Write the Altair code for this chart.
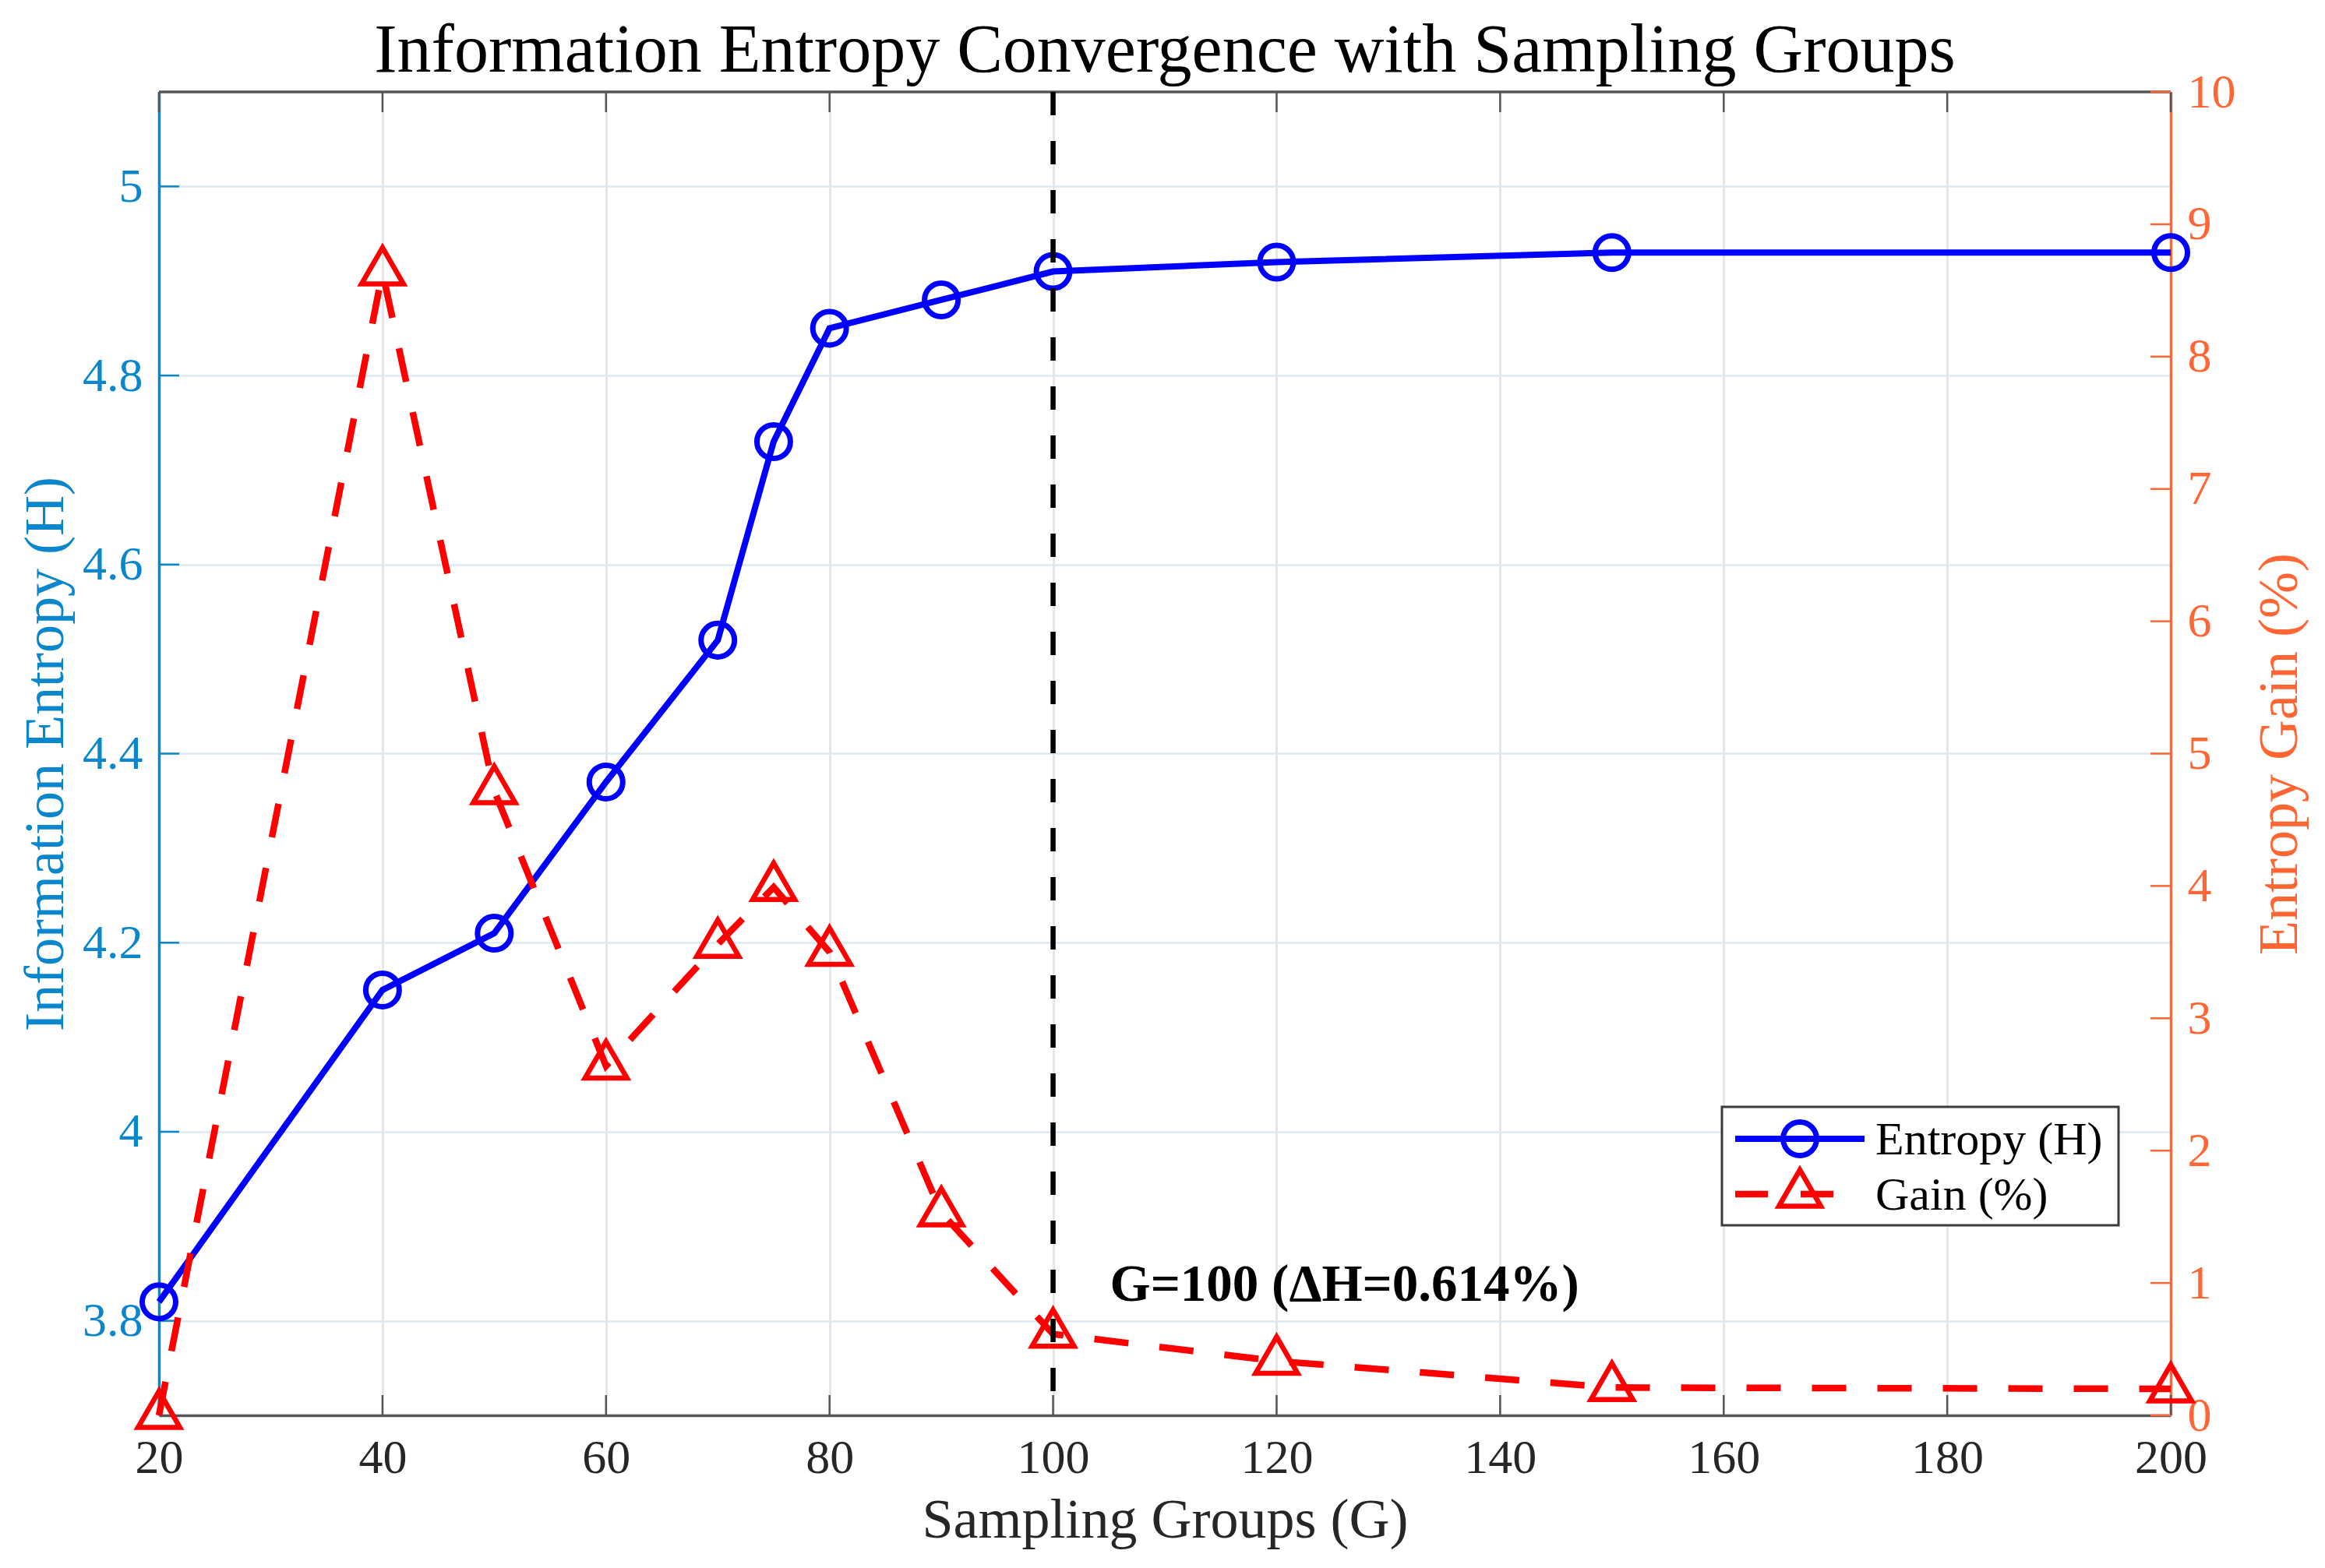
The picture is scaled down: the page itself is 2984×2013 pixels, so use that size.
import altair as alt
import pandas as pd

# ---------------- data ----------------
groups = [20, 40, 50, 60, 70, 75, 80, 90, 100, 120, 150, 200]
entropy = [3.82, 4.15, 4.21, 4.37, 4.52, 4.73, 4.85, 4.88, 4.91, 4.92, 4.93, 4.93]
gain = [0.0, 8.64, 4.72, 2.64, 3.56, 3.99, 3.50, 1.53, 0.614, 0.41, 0.21, 0.20]

x_ticks = [20, 40, 60, 80, 100, 120, 140, 160, 180, 200]
left_ticks = [3.8, 4.0, 4.2, 4.4, 4.6, 4.8, 5.0]
right_ticks = [0, 1, 2, 3, 4, 5, 6, 7, 8, 9, 10]
series_names = ["Entropy (H)", "Gain (%)"]
converge_group = [100]
annotation_text = "G=100 (\u0394H=0.614%)"
chart_title = "Information Entropy Convergence with Sampling Groups"

# ---------------- styling ----------------
FONT = "Liberation Serif"
W, H = 2582, 1699
LEFT_C = "#0A86CC"
RIGHT_C = "#FF6633"
BLUE = "#0000FF"
RED = "#FF0000"
AXIS_C = "#555555"
TICK = 26
TRI = "M0,-1.155L1,0.577L-1,0.577Z"

df = pd.DataFrame({"G": groups, "H": entropy, "Gain": gain})
xt = pd.DataFrame({"t": x_ticks})
lt = pd.DataFrame({"t": left_ticks})
rt = pd.DataFrame({"t": right_ticks})
cg = pd.DataFrame({"G": converge_group})
one = pd.DataFrame({"a": [0]})

x_axis = alt.Axis(values=x_ticks, title="Sampling Groups (G)", grid=True,
                  gridColor="#e2e2e2", gridWidth=2.5, domainColor=AXIS_C,
                  domainWidth=3.5, ticks=False, tickSize=0, labelFont=FONT,
                  labelFontSize=62, labelColor="#262626", labelPadding=24,
                  labelFlush=False, labelOverlap=False, titleFont=FONT,
                  titleFontSize=72, titleFontWeight="normal", titleColor="#262626",
                  titleBaseline="alphabetic", titleY=156)

left_axis = alt.Axis(values=left_ticks, format="~g", title="Information Entropy (H)",
                     orient="left", grid=True, gridColor="#dbe9f5", gridWidth=2.5,
                     domainColor=LEFT_C, domainWidth=3.5, ticks=False, tickSize=0,
                     labelFont=FONT, labelFontSize=62, labelColor=LEFT_C,
                     labelPadding=21, labelFlush=False, labelOverlap=False,
                     titleFont=FONT, titleFontSize=72, titleFontWeight="normal",
                     titleColor=LEFT_C, titleAngle=270, titleBaseline="alphabetic",
                     titleX=-124)

right_axis = alt.Axis(values=right_ticks, format="d", title="Entropy Gain (%)",
                      orient="right", grid=False, domainColor=RIGHT_C,
                      domainWidth=3.5, ticks=False, tickSize=0, labelFont=FONT,
                      labelFontSize=62, labelColor=RIGHT_C, labelPadding=21,
                      labelFlush=False, labelOverlap=False, titleFont=FONT,
                      titleFontSize=72, titleFontWeight="normal", titleColor=RIGHT_C,
                      titleAngle=270, titleBaseline="alphabetic", titleX=161)


def xe(field):
    return alt.X(f"{field}:Q", scale=alt.Scale(domain=[20, 200], nice=False, zero=False),
                 axis=x_axis)


def yl(field):
    return alt.Y(f"{field}:Q", scale=alt.Scale(domain=[3.7, 5.1], nice=False, zero=False),
                 axis=left_axis)


def yr(field):
    return alt.Y(f"{field}:Q", scale=alt.Scale(domain=[0, 10], nice=False, zero=False),
                 axis=right_axis)


# ---------------- left (entropy) group ----------------
left_tick_rules = alt.Chart(lt).mark_rule(color=LEFT_C, strokeWidth=2.5).encode(
    y=yl("t"), x=alt.value(0), x2=alt.value(TICK))
ent_line = alt.Chart(df).mark_line(color=BLUE, strokeWidth=8).encode(x=xe("G"), y=yl("H"))
ent_pts = alt.Chart(df).mark_point(shape="circle", filled=False, size=1850, color=BLUE,
                                   strokeWidth=7, opacity=1).encode(x=xe("G"), y=yl("H"))
left_group = alt.layer(left_tick_rules, ent_line, ent_pts)

# ---------------- right (gain) group ----------------
right_tick_rules = alt.Chart(rt).mark_rule(color=RIGHT_C, strokeWidth=2.5).encode(
    y=yr("t"), x=alt.value(W - TICK), x2=alt.value(W))
gain_line = alt.Chart(df).mark_line(color=RED, strokeWidth=8.5, strokeDash=[44, 40]).encode(
    x=xe("G"), y=yr("Gain"))
gain_pts = alt.Chart(df).mark_point(shape=TRI, filled=False, size=2900, color=RED,
                                    strokeWidth=6.5, opacity=1).encode(x=xe("G"), y=yr("Gain"))
right_group = alt.layer(right_tick_rules, gain_line, gain_pts)

# ---------------- frame pieces ----------------
top_border = alt.Chart(one).mark_rule(color=AXIS_C, strokeWidth=3.5).encode(
    x=alt.value(0), x2=alt.value(W), y=alt.value(0))
x_tick_bottom = alt.Chart(xt).mark_rule(color=AXIS_C, strokeWidth=2.5).encode(
    x=xe("t"), y=alt.value(H), y2=alt.value(H - TICK))
x_tick_top = alt.Chart(xt).mark_rule(color=AXIS_C, strokeWidth=2.5).encode(
    x=xe("t"), y=alt.value(0), y2=alt.value(TICK))

vline = alt.Chart(cg).mark_rule(color="black", strokeWidth=6.5, strokeDash=[30, 33]).encode(
    x=xe("G"), y=alt.value(0), y2=alt.value(H))
annot = alt.Chart(cg).mark_text(text=annotation_text, font=FONT, fontSize=67,
                                fontWeight="bold", color="black", align="left",
                                baseline="alphabetic", dx=73).encode(
    x=xe("G"), y=alt.value(1552))

title_mark = alt.Chart(one).mark_text(text=chart_title, font=FONT, fontSize=88,
                                      color="black", align="center",
                                      baseline="alphabetic").encode(
    x=alt.value(W / 2), y=alt.value(-26))

# ---------------- legend ----------------
LX0, LX1, LY0, LY1 = 2006, 2515, 1303, 1455
leg_box = alt.Chart(one).mark_rect(fill="white", stroke="#3a3a3a", strokeWidth=3).encode(
    x=alt.value(LX0), x2=alt.value(LX1), y=alt.value(LY0), y2=alt.value(LY1))
leg_l1 = alt.Chart(one).mark_rule(color=BLUE, strokeWidth=8).encode(
    x=alt.value(2023), x2=alt.value(2189), y=alt.value(1344))
leg_p1 = alt.Chart(one).mark_point(shape="circle", filled=False, size=1850, color=BLUE,
                                   strokeWidth=7, opacity=1).encode(
    x=alt.value(2106), y=alt.value(1344))
leg_t1 = alt.Chart(one).mark_text(text=series_names[0], font=FONT, fontSize=60,
                                  color="black", align="left", baseline="alphabetic").encode(
    x=alt.value(2203), y=alt.value(1364))
leg_l2 = alt.Chart(one).mark_rule(color=RED, strokeWidth=8.5, strokeDash=[42, 42]).encode(
    x=alt.value(2023), x2=alt.value(2189), y=alt.value(1415))
leg_p2 = alt.Chart(one).mark_point(shape=TRI, filled=False, size=2900, color=RED,
                                   strokeWidth=6.5, opacity=1).encode(
    x=alt.value(2106), y=alt.value(1415))
leg_t2 = alt.Chart(one).mark_text(text=series_names[1], font=FONT, fontSize=60,
                                  color="black", align="left", baseline="alphabetic").encode(
    x=alt.value(2203), y=alt.value(1435))

chart = alt.layer(
    top_border, x_tick_bottom, x_tick_top,
    left_group, right_group,
    vline, annot, title_mark,
    leg_box, leg_l1, leg_p1, leg_t1, leg_l2, leg_p2, leg_t2,
).resolve_scale(y="independent").properties(
    width=W, height=H,
    autosize=alt.AutoSizeParams(type="none"),
    padding={"left": 196, "top": 110, "right": 190, "bottom": 176},
    background="white",
).configure_view(stroke=None)

chart.save("out.html", embed_options={"renderer": "svg", "actions": False})
